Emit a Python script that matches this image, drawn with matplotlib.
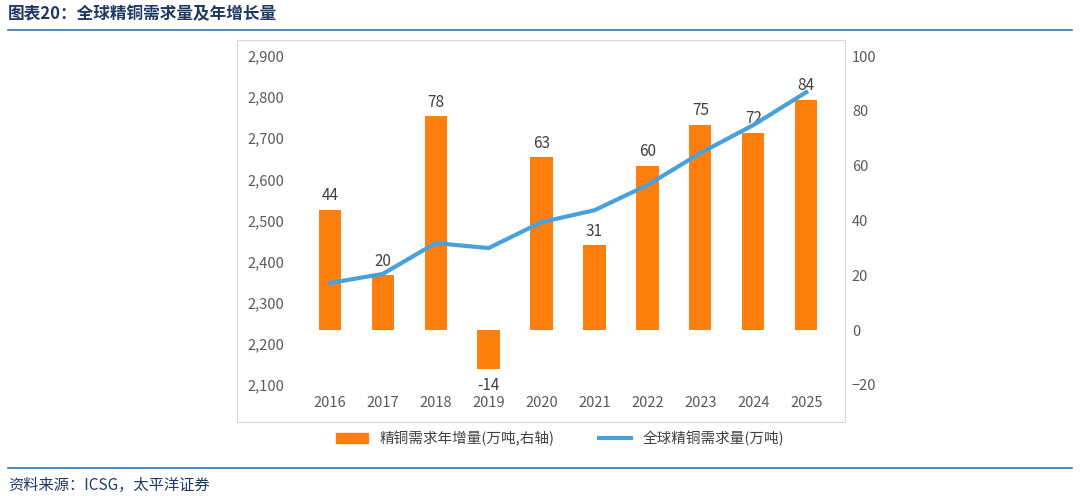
import matplotlib.pyplot as plt
from matplotlib.patches import Rectangle
from matplotlib.lines import Line2D

plt.rcParams['font.family'] = ['Noto Sans CJK SC', 'DejaVu Sans']

years = ['2016', '2017', '2018', '2019', '2020', '2021', '2022', '2023', '2024', '2025']
growth = [44, 20, 78, -14, 63, 31, 60, 75, 72, 84]
demand = [2348, 2370, 2445, 2433, 2496, 2525, 2586, 2664, 2732, 2812]

fig = plt.figure(figsize=(10.8, 4.96), dpi=100)

# frame around chart
fig.patches.append(Rectangle((237 / 1080, 1 - 422 / 496), 608 / 1080, 382 / 496,
                             transform=fig.transFigure, fill=False, ec='#d9d9d9', lw=0.8))

ax = fig.add_axes([298 / 1080, 1 - 385 / 496, 540 / 1080, 329 / 496])
ax2 = ax.twinx()
x = range(len(years))

ax2.bar(x, growth, width=0.42, color='#ff7f0e', zorder=1)
for i, v in enumerate(growth):
    off = 2 if v >= 0 else -3
    ax2.text(i, v + off, str(v), ha='center', va='bottom' if v >= 0 else 'top',
             fontsize=11, color='#404040')
ax2.set_ylim(-20, 100)
ax2.set_yticks(range(-20, 101, 20))

ax.plot(x, demand, color='#48a0dc', lw=3, zorder=5)
ax.set_ylim(2100, 2900)
ax.set_yticks(range(2100, 2901, 100))
ax.set_yticklabels([f'{v:,}' for v in range(2100, 2901, 100)])
ax.set_zorder(ax2.get_zorder() + 1)
ax.patch.set_visible(False)
ax.set_xticks(list(x))
ax.set_xticklabels(years)
ax.set_xlim(-0.6, len(years) - 0.4)

for a in (ax, ax2):
    for s in a.spines.values():
        s.set_visible(False)
    a.tick_params(length=0, labelsize=10.5, colors='#595959')
ax.tick_params(axis='x', pad=8)
ax.tick_params(axis='y', pad=10)
ax2.tick_params(axis='y', pad=10)

handles = [Rectangle((0, 0), 1, 1, color='#ff7f0e'),
           Line2D([0], [0], color='#48a0dc', lw=3)]
fig.legend(handles, ['精铜需求年增量(万吨,右轴)', '全球精铜需求量(万吨)'],
           loc='center', bbox_to_anchor=(560 / 1080, 1 - 438 / 496), ncol=2,
           frameon=False, fontsize=10.5, handlelength=2.2, columnspacing=3,
           labelcolor='#404040')

fig.text(8 / 1080, 1 - 14 / 496, '图表20：全球精铜需求量及年增长量', fontsize=12,
         color='#1f3864', va='center', fontweight='bold')
fig.add_artist(Line2D([8 / 1080, 1072 / 1080], [1 - 30 / 496] * 2, color='#2e75b6', lw=1.2))
fig.add_artist(Line2D([8 / 1080, 1072 / 1080], [1 - 468 / 496] * 2, color='#2e75b6', lw=1.2))
fig.text(8 / 1080, 1 - 485 / 496, '资料来源：ICSG，太平洋证券', fontsize=11,
         color='#1f3864', va='center', style='italic')

fig.savefig('out.png')
